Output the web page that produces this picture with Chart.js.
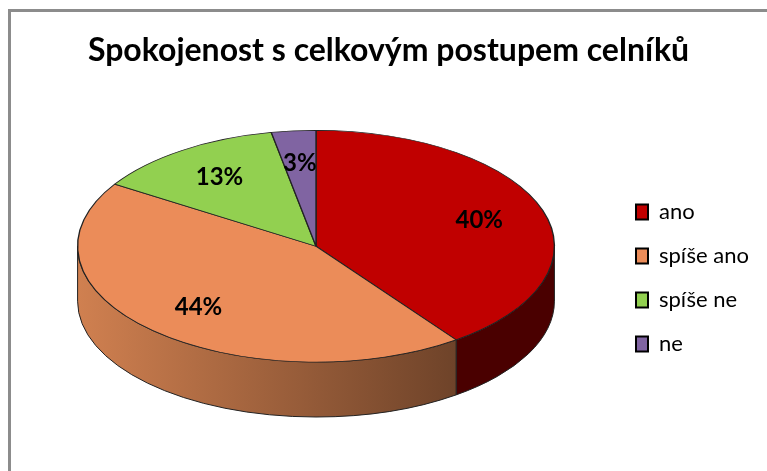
<!DOCTYPE html>
<html>
<head>
<meta charset="utf-8">
<script src="https://cdn.jsdelivr.net/npm/chart.js@4.4.0/dist/chart.umd.min.js"></script>
<style>
body{margin:0;background:#fff;}
#frame{position:absolute;left:8px;top:9px;width:800px;height:500px;border-left:3px solid #8c8c8c;border-top:3px solid #8c8c8c;}
#wrap{position:absolute;left:0;top:0;width:767px;height:471px;}
</style>
</head>
<body>
<div id="frame"></div>
<div id="wrap"><canvas id="myChart"></canvas></div>
<script>
// data
var labels = ['ano', 'spíše ano', 'spíše ne', 'ne']
var values = [40, 44, 13, 3]

// colours: top face + side (left/right of gradient)
var topColors = ['#c00000', '#eb8c59', '#92d050', '#8064a2']
var sideColors = [['#4a0000', '#4a0000'], ['#d08050', '#55331f'], ['#5e8a30', '#5e8a30'], ['#4e3c66', '#4e3c66']]

// 3d look
var stretchX = 1.4
var flatten = 0.68
var depth = 55

var pie3d = {
    id: 'pie3d',
    beforeDatasetsDraw: function(chart){
        var ctx = chart.ctx
        var arcs = chart.getDatasetMeta(0).data
        var cx = arcs[0].x, cy = arcs[0].y
        var rx = arcs[0].outerRadius * stretchX
        var ry = arcs[0].outerRadius * flatten
        ctx.save()
        arcs.forEach(function(arc, i){
            var a0 = Math.max(arc.startAngle, 0)
            var a1 = Math.min(arc.endAngle, Math.PI)
            if(a0 >= a1) return
            var grad = ctx.createLinearGradient(cx - rx, 0, cx + rx, 0)
            grad.addColorStop(0, sideColors[i][0])
            grad.addColorStop(1, sideColors[i][1])
            ctx.beginPath()
            ctx.ellipse(cx, cy, rx, ry, 0, a0, a1)
            ctx.ellipse(cx, cy + depth, rx, ry, 0, a1, a0, true)
            ctx.closePath()
            ctx.fillStyle = grad
            ctx.fill()
            ctx.lineWidth = 1
            ctx.strokeStyle = '#222'
            ctx.stroke()
        })
        ctx.restore()
        // flatten the top face
        ctx.save()
        ctx.translate(cx, cy)
        ctx.scale(stretchX, flatten)
        ctx.translate(-cx, -cy)
    },
    afterDatasetsDraw: function(chart){
        var ctx = chart.ctx
        ctx.restore()
        var arcs = chart.getDatasetMeta(0).data
        var total = values.reduce(function(a, b){ return a + b }, 0)
        ctx.save()
        ctx.font = 'bold 24px Lato'
        ctx.fillStyle = '#000'
        ctx.textAlign = 'center'
        ctx.textBaseline = 'middle'
        arcs.forEach(function(arc, i){
            var mid = (arc.startAngle + arc.endAngle) / 2
            var rr = arc.outerRadius * 0.72
            var x = arc.x + Math.cos(mid) * rr * stretchX
            var y = arc.y + Math.sin(mid) * rr * flatten
            ctx.fillText(Math.round(values[i] / total * 100) + '%', x, y)
        })
        ctx.restore()
    }
}

var ctx = document.getElementById('myChart').getContext('2d')
var chart = new Chart(ctx, {
    type: 'pie',
    plugins: [pie3d],
    data: {
        labels: labels,
        datasets: [{
            data: values,
            backgroundColor: topColors,
            borderColor: '#222',
            borderWidth: 1,
            clip: false
        }]
    },
    options: {
        responsive: true,
        maintainAspectRatio: false,
        animation: false,
        layout: {
            padding: {left: 18, right: 8, top: 0, bottom: 54}
        },
        plugins: {
            title: {
                display: true,
                text: 'Spokojenost s celkovým postupem celníků',
                color: '#000',
                font: {family: 'Lato', size: 32, weight: 'bold'},
                padding: {top: 31, bottom: 6}
            },
            legend: {
                position: 'right',
                title: {
                    display: true,
                    text: ' ',
                    font: {size: 10},
                    padding: {top: 127, bottom: 0}
                },
                labels: {
                    color: '#000',
                    font: {family: 'Lato', size: 22},
                    boxWidth: 12,
                    boxHeight: 15,
                    padding: 22,
                    generateLabels: function(chart){
                        var items = Chart.controllers.pie.overrides.plugins.legend.labels.generateLabels(chart)
                        items.forEach(function(it){
                            it.strokeStyle = '#000'
                            it.lineWidth = 2
                        })
                        return items
                    }
                }
            },
            tooltip: {enabled: false}
        }
    }
})
</script>
</body>
</html>
